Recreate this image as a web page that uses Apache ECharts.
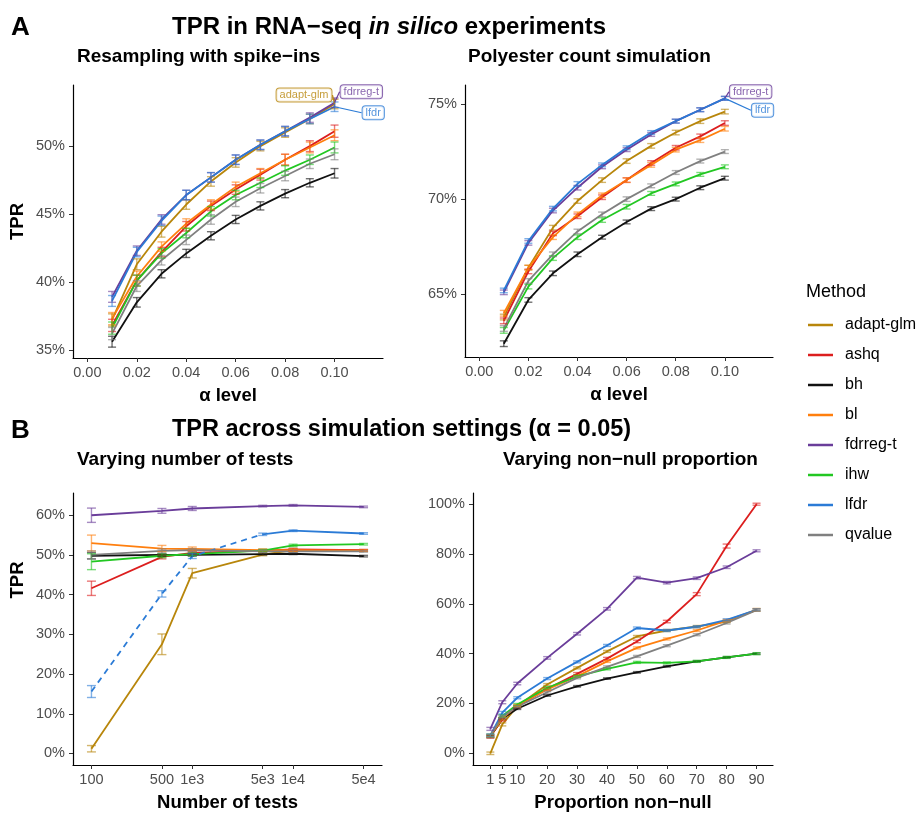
<!DOCTYPE html>
<html>
<head>
<meta charset="utf-8">
<script src="https://cdn.jsdelivr.net/npm/echarts@6/dist/echarts.min.js"></script>
<style>
  html, body { margin: 0; padding: 0; background: #fff; }
  #chart { width: 919px; height: 813px; }
</style>
</head>
<body>
<div id="chart"></div>
<script>
// ---- data ----
const methods = ['adapt-glm', 'ashq', 'bh', 'bl', 'fdrreg-t', 'ihw', 'lfdr', 'qvalue'];
const methodColors = ['#B8860B', '#DC1E1E', '#111111', '#FF7F0E', '#6A3D9A', '#22C722', '#2B7BD6', '#808080'];

// A, left: resampling with spike-ins (TPR %, +/- error)
const alphaLevels = [0.01, 0.02, 0.03, 0.04, 0.05, 0.06, 0.07, 0.08, 0.09, 0.10];
const alphaTicks = [0, 0.02, 0.04, 0.06, 0.08, 0.10];
const spikeTPR = {
  'adapt-glm': [37.2, 41.3, 43.7, 45.7, 47.4, 48.8, 50.0, 51.0, 52.0, 53.1],
  'ashq':      [36.8, 40.1, 42.2, 44.1, 45.6, 46.8, 47.9, 49.0, 50.0, 51.1],
  'bh':        [35.6, 38.5, 40.6, 42.1, 43.4, 44.6, 45.6, 46.5, 47.3, 48.0],
  'bl':        [37.3, 40.4, 42.6, 44.3, 45.7, 47.0, 48.0, 49.0, 49.9, 50.8],
  'fdrreg-t':  [38.9, 42.3, 44.6, 46.4, 47.7, 49.0, 50.1, 51.1, 52.1, 53.2],
  'ihw':       [36.6, 40.1, 42.1, 43.6, 45.2, 46.4, 47.3, 48.2, 49.0, 49.9],
  'lfdr':      [38.6, 42.2, 44.5, 46.4, 47.7, 49.0, 50.1, 51.1, 52.0, 52.9],
  'qvalue':    [36.2, 39.7, 41.6, 43.1, 44.6, 45.9, 46.9, 47.8, 48.7, 49.4]
};
const spikeErr = {
  'adapt-glm': [0.45, 0.4, 0.4, 0.35, 0.35, 0.35, 0.35, 0.35, 0.35, 0.35],
  'ashq':      [0.45, 0.4, 0.35, 0.35, 0.35, 0.35, 0.4, 0.4, 0.4, 0.45],
  'bh':        [0.4, 0.35, 0.3, 0.3, 0.3, 0.3, 0.3, 0.3, 0.3, 0.35],
  'bl':        [0.45, 0.4, 0.35, 0.35, 0.35, 0.35, 0.35, 0.4, 0.4, 0.4],
  'fdrreg-t':  [0.4, 0.35, 0.35, 0.35, 0.35, 0.35, 0.35, 0.35, 0.35, 0.35],
  'ihw':       [0.45, 0.4, 0.35, 0.35, 0.35, 0.35, 0.35, 0.35, 0.35, 0.4],
  'lfdr':      [0.4, 0.35, 0.35, 0.35, 0.35, 0.35, 0.35, 0.35, 0.35, 0.35],
  'qvalue':    [0.45, 0.4, 0.35, 0.35, 0.35, 0.35, 0.35, 0.35, 0.35, 0.4]
};

// A, right: polyester count simulation
const polyTPR = {
  'adapt-glm': [63.8, 66.4, 68.5, 69.9, 71.0, 72.0, 72.8, 73.5, 74.1, 74.6],
  'ashq':      [63.6, 66.2, 68.2, 69.1, 70.1, 71.0, 71.9, 72.7, 73.3, 74.0],
  'bh':        [62.4, 64.7, 66.1, 67.1, 68.0, 68.8, 69.5, 70.0, 70.6, 71.1],
  'bl':        [64.0, 66.4, 68.0, 69.2, 70.2, 71.0, 71.8, 72.6, 73.1, 73.7],
  'fdrreg-t':  [65.1, 67.7, 69.4, 70.6, 71.7, 72.6, 73.4, 74.1, 74.7, 75.3],
  'ihw':       [63.1, 65.4, 66.9, 68.0, 68.9, 69.6, 70.3, 70.8, 71.3, 71.7],
  'lfdr':      [65.2, 67.8, 69.5, 70.8, 71.8, 72.7, 73.5, 74.1, 74.7, 75.3],
  'qvalue':    [63.2, 65.7, 67.1, 68.3, 69.2, 70.0, 70.7, 71.4, 72.0, 72.5]
};
const polyErr = {
  'adapt-glm': [0.15, 0.12, 0.12, 0.12, 0.12, 0.12, 0.12, 0.12, 0.12, 0.12],
  'ashq':      [0.15, 0.12, 0.12, 0.12, 0.12, 0.12, 0.12, 0.12, 0.12, 0.12],
  'bh':        [0.15, 0.12, 0.12, 0.12, 0.1, 0.1, 0.1, 0.1, 0.1, 0.1],
  'bl':        [0.15, 0.12, 0.12, 0.12, 0.12, 0.12, 0.12, 0.12, 0.12, 0.12],
  'fdrreg-t':  [0.12, 0.12, 0.12, 0.12, 0.1, 0.1, 0.1, 0.1, 0.1, 0.1],
  'ihw':       [0.15, 0.12, 0.12, 0.12, 0.12, 0.12, 0.1, 0.1, 0.1, 0.1],
  'lfdr':      [0.12, 0.12, 0.12, 0.12, 0.1, 0.1, 0.1, 0.1, 0.1, 0.1],
  'qvalue':    [0.15, 0.12, 0.12, 0.12, 0.12, 0.12, 0.1, 0.1, 0.1, 0.1]
};

// B, left: varying number of tests
const nTests = [100, 500, 1000, 5000, 10000, 50000];
const nTestLabels = ['100', '500', '1e3', '5e3', '1e4', '5e4'];
const testsTPR = {
  'adapt-glm': [1.2, 27.5, 45.4, 50.1, 51.2, 51.1],
  'ashq':      [41.6, 49.5, 50.5, 51.1, 51.4, 51.2],
  'bh':        [49.8, 50.0, 50.0, 50.2, 50.3, 49.7],
  'bl':        [53.0, 51.6, 51.5, 51.2, 51.2, 51.1],
  'fdrreg-t':  [60.0, 61.1, 61.7, 62.3, 62.5, 62.1],
  'ihw':       [48.3, 49.8, 50.2, 51.1, 52.4, 52.7],
  'lfdr':      [15.6, 40.2, 49.7, 55.2, 56.1, 55.4],
  'qvalue':    [50.0, 51.0, 51.2, 50.9, 50.9, 50.9]
};
const testsErr = {
  'adapt-glm': [0.8, 2.6, 1.2, 0.3, 0.3, 0.2],
  'ashq':      [1.8, 0.5, 0.4, 0.3, 0.3, 0.2],
  'bh':        [0.8, 0.3, 0.3, 0.2, 0.2, 0.2],
  'bl':        [2.0, 0.8, 0.5, 0.3, 0.3, 0.2],
  'fdrreg-t':  [1.8, 0.6, 0.5, 0.2, 0.2, 0.2],
  'ihw':       [2.0, 0.5, 0.4, 0.3, 0.3, 0.2],
  'lfdr':      [1.5, 0.8, 0.6, 0.3, 0.2, 0.2],
  'qvalue':    [1.0, 0.5, 0.4, 0.3, 0.3, 0.2]
};
const lfdrDashedLastIndex = 3; // lfdr drawn dashed from 100 up to 5e3

// B, right: varying non-null proportion
const propNonNull = [1, 5, 10, 20, 30, 40, 50, 60, 70, 80, 90];
const propTPR = {
  'adapt-glm': [0.0, 11.6, 18.9, 27.6, 34.3, 40.9, 46.9, 49.3, 50.9, 52.9, 57.6],
  'ashq':      [6.7, 13.6, 18.7, 25.9, 31.9, 38.0, 44.9, 52.9, 63.9, 83.2, 100.0],
  'bh':        [6.7, 13.9, 17.9, 23.2, 26.9, 30.0, 32.5, 34.9, 36.9, 38.5, 40.0],
  'bl':        [6.9, 13.9, 19.2, 25.6, 30.9, 36.9, 42.3, 45.9, 49.3, 53.3, 57.6],
  'fdrreg-t':  [9.8, 20.5, 28.0, 38.3, 48.0, 58.0, 70.5, 68.5, 70.3, 74.7, 81.3],
  'ihw':       [7.2, 15.0, 19.6, 26.3, 30.9, 33.9, 36.5, 36.3, 36.9, 38.5, 40.0],
  'lfdr':      [7.2, 16.3, 22.3, 30.0, 36.7, 43.3, 50.3, 49.3, 50.8, 53.6, 57.6],
  'qvalue':    [7.2, 14.7, 18.7, 24.5, 30.3, 34.7, 38.9, 43.2, 47.6, 52.3, 57.5]
};
const propErr = {
  'adapt-glm': [0.5, 0.6, 0.4, 0.4, 0.4, 0.4, 0.4, 0.4, 0.4, 0.4, 0.5],
  'ashq':      [0.6, 0.6, 0.5, 0.5, 0.5, 0.5, 0.5, 0.5, 0.6, 0.8, 0.4],
  'bh':        [0.4, 0.4, 0.3, 0.3, 0.3, 0.3, 0.3, 0.3, 0.3, 0.3, 0.3],
  'bl':        [0.5, 0.5, 0.4, 0.4, 0.4, 0.4, 0.4, 0.4, 0.4, 0.4, 0.5],
  'fdrreg-t':  [0.6, 0.6, 0.5, 0.5, 0.5, 0.5, 0.5, 0.5, 0.5, 0.5, 0.4],
  'ihw':       [0.5, 0.5, 0.4, 0.4, 0.4, 0.4, 0.4, 0.4, 0.4, 0.4, 0.4],
  'lfdr':      [0.5, 0.5, 0.4, 0.4, 0.4, 0.4, 0.4, 0.4, 0.4, 0.4, 0.4],
  'qvalue':    [0.5, 0.5, 0.4, 0.4, 0.4, 0.4, 0.4, 0.4, 0.4, 0.4, 0.4]
};

// ---- chart ----
const FONT = '"Liberation Sans", Arial, Helvetica, sans-serif';
const TICK_COLOR = '#4d4d4d';

const grids = [
  { left: 73, top: 85, width: 310, height: 273 },
  { left: 465, top: 85, width: 308, height: 272 },
  { left: 73, top: 493, width: 309, height: 273 },
  { left: 473, top: 493, width: 300, height: 273 }
];

function xAxisCfg(gi, min, max, ticks, fmt, name) {
  return {
    type: 'value', gridIndex: gi, min: min, max: max,
    splitLine: { show: false },
    axisLine: { show: true, onZero: false, lineStyle: { color: '#000', width: 1.2 } },
    axisTick: { show: true, length: 4, customValues: ticks, lineStyle: { color: '#333', width: 1 } },
    axisLabel: { customValues: ticks, formatter: fmt, color: TICK_COLOR, fontSize: 14.5, fontFamily: FONT, margin: 7 },
    name: name, nameLocation: 'middle', nameGap: 28,
    nameTextStyle: { fontSize: 18.5, fontWeight: 'bold', color: '#000', fontFamily: FONT }
  };
}

function yAxisCfg(gi, min, max, ticks, name) {
  return {
    type: 'value', gridIndex: gi, min: min, max: max,
    splitLine: { show: false },
    axisLine: { show: true, onZero: false, lineStyle: { color: '#000', width: 1.2 } },
    axisTick: { show: true, length: 4, customValues: ticks, lineStyle: { color: '#333', width: 1 } },
    axisLabel: { customValues: ticks, formatter: v => v + '%', color: TICK_COLOR, fontSize: 14.5, fontFamily: FONT, margin: 8 },
    name: name || '', nameLocation: 'middle', nameGap: 46,
    nameTextStyle: { fontSize: 18.5, fontWeight: 'bold', color: '#000', fontFamily: FONT }
  };
}

function errRender(color, capHalf) {
  return function (params, api) {
    const x = api.value(0);
    const lo = api.coord([x, api.value(1)]);
    const hi = api.coord([x, api.value(2)]);
    const st = () => ({ stroke: color, lineWidth: 1.4, opacity: 0.6 });
    return {
      type: 'group',
      children: [
        { type: 'line', shape: { x1: lo[0], y1: lo[1], x2: hi[0], y2: hi[1] }, style: st() },
        { type: 'line', shape: { x1: lo[0] - capHalf, y1: lo[1], x2: lo[0] + capHalf, y2: lo[1] }, style: st() },
        { type: 'line', shape: { x1: hi[0] - capHalf, y1: hi[1], x2: hi[0] + capHalf, y2: hi[1] }, style: st() }
      ]
    };
  };
}

const series = [];

function lineSeries(name, gi, pts, color, dashed) {
  return {
    type: 'line', name: name, xAxisIndex: gi, yAxisIndex: gi,
    data: pts, symbol: 'none', showSymbol: false, smooth: false,
    lineStyle: { color: color, width: 1.8, type: dashed ? [6, 5] : 'solid' },
    itemStyle: { color: color },
    emphasis: { disabled: true }, z: 3
  };
}

function addPanel(gi, xs, tpr, err, capHalf, dashSplit) {
  methods.forEach((m, k) => {
    const col = methodColors[k];
    const ys = tpr[m];
    const es = err[m];
    const pts = xs.map((x, i) => [x, ys[i]]);
    if (dashSplit && m === 'lfdr') {
      const cut = dashSplit;
      series.push(lineSeries('lfdr dashed', gi, pts.map((p, i) => i <= cut ? p : [p[0], null]), col, true));
      series.push(lineSeries(m, gi, pts.map((p, i) => i >= cut ? p : [p[0], null]), col, false));
    } else {
      series.push(lineSeries(m, gi, pts, col, false));
    }
    series.push({
      type: 'custom', name: m + ' se', xAxisIndex: gi, yAxisIndex: gi,
      renderItem: errRender(col, capHalf),
      data: xs.map((x, i) => [x, ys[i] - es[i], ys[i] + es[i]]),
      encode: { x: 0, y: [1, 2] }, silent: true, z: 4
    });
  });
}

addPanel(0, alphaLevels, spikeTPR, spikeErr, 4);
addPanel(1, alphaLevels, polyTPR, polyErr, 4);
addPanel(2, nTests.map(n => Math.log10(n)), testsTPR, testsErr, 4.5, lfdrDashedLastIndex);
addPanel(3, propNonNull, propTPR, propErr, 4);

// repelled end labels in panel A
const endLabels = [
  { gi: 0, method: 'adapt-glm', position: 'left', dx: -3, dy: -9 },
  { gi: 0, method: 'fdrreg-t', position: 'right', dx: 6, dy: -11 },
  { gi: 0, method: 'lfdr', position: 'right', dx: 28, dy: 6 },
  { gi: 1, method: 'fdrreg-t', position: 'right', dx: 5, dy: -6.5 },
  { gi: 1, method: 'lfdr', position: 'right', dx: 27, dy: 12 }
];
endLabels.forEach(l => {
  const k = methods.indexOf(l.method);
  const col = methodColors[k];
  const ys = (l.gi === 0 ? spikeTPR : polyTPR)[l.method];
  const last = alphaLevels.length - 1;
  series.push({
    type: 'scatter', name: 'label ' + l.method, xAxisIndex: l.gi, yAxisIndex: l.gi,
    data: [[alphaLevels[last], ys[last]]], symbolSize: 0.1, silent: true, z: 6,
    label: {
      show: true, formatter: l.method, position: l.position, distance: 0,
      color: col, fontSize: 11, fontFamily: FONT,
      backgroundColor: '#fff', borderColor: col, borderWidth: 1, borderRadius: 3,
      padding: [1, 3, 1, 3]
    },
    labelLayout: { dx: l.dx, dy: l.dy },
    labelLine: { show: true, length2: 0, lineStyle: { color: col, width: 1.2 } }
  });
});

const chart = echarts.init(document.getElementById('chart'), null, { renderer: 'canvas' });
chart.setOption({
  animation: false,
  backgroundColor: '#fff',
  grid: grids,
  xAxis: [
    xAxisCfg(0, -0.0058, 0.1196, alphaTicks, v => v.toFixed(2), 'α level'),
    xAxisCfg(1, -0.0058, 0.1196, alphaTicks, v => v.toFixed(2), 'α level'),
    xAxisCfg(2, 1.817, 4.882, nTests.map(n => Math.log10(n)),
      v => nTestLabels[nTests.findIndex(n => Math.abs(Math.log10(n) - v) < 1e-6)], 'Number of tests'),
    xAxisCfg(3, -4.8, 95.5, propNonNull, v => String(v), 'Proportion non−null')
  ],
  yAxis: [
    yAxisCfg(0, 34.4, 54.5, [35, 40, 45, 50], 'TPR'),
    yAxisCfg(1, 61.7, 76.0, [65, 70, 75]),
    yAxisCfg(2, -2.9, 65.6, [0, 10, 20, 30, 40, 50, 60]),
    yAxisCfg(3, -4.7, 104.5, [0, 20, 40, 60, 80, 100])
  ],
  legend: {
    data: methods, orient: 'vertical', left: 803, top: 312,
    icon: 'rect', itemWidth: 25, itemHeight: 2.5, itemGap: 14,
    textStyle: { fontSize: 16, color: '#000', fontFamily: FONT, padding: [0, 0, 0, 7] }
  },
  graphic: [
    { type: 'text', x: 11, y: 28, style: { text: 'A', font: 'bold 26px ' + FONT, fill: '#000', verticalAlign: 'middle' } },
    { type: 'text', x: 172, y: 27, style: {
      text: '{b|TPR in RNA−seq }{i|in silico}{b| experiments}', verticalAlign: 'middle',
      rich: { b: { font: 'bold 24px ' + FONT, fill: '#000' }, i: { font: 'italic bold 24px ' + FONT, fill: '#000' } }
    } },
    { type: 'text', x: 77, y: 57, style: { text: 'Resampling with spike−ins', font: 'bold 19px ' + FONT, fill: '#000', verticalAlign: 'middle' } },
    { type: 'text', x: 468, y: 57, style: { text: 'Polyester count simulation', font: 'bold 19px ' + FONT, fill: '#000', verticalAlign: 'middle' } },
    { type: 'text', x: 11, y: 431, style: { text: 'B', font: 'bold 26px ' + FONT, fill: '#000', verticalAlign: 'middle' } },
    { type: 'text', x: 172, y: 430, style: { text: 'TPR across simulation settings (α = 0.05)', font: 'bold 23.5px ' + FONT, fill: '#000', verticalAlign: 'middle' } },
    { type: 'text', x: 77, y: 460, style: { text: 'Varying number of tests', font: 'bold 19px ' + FONT, fill: '#000', verticalAlign: 'middle' } },
    { type: 'text', x: 503, y: 460, style: { text: 'Varying non−null proportion', font: 'bold 19px ' + FONT, fill: '#000', verticalAlign: 'middle' } },
    { type: 'text', x: 18, y: 580, rotation: Math.PI / 2, style: { text: 'TPR', font: 'bold 18.5px ' + FONT, fill: '#000', align: 'center', verticalAlign: 'middle' } },
    { type: 'text', x: 806, y: 292, style: { text: 'Method', font: '18px ' + FONT, fill: '#000', verticalAlign: 'middle' } }
  ],
  series: series
});
</script>
</body>
</html>
